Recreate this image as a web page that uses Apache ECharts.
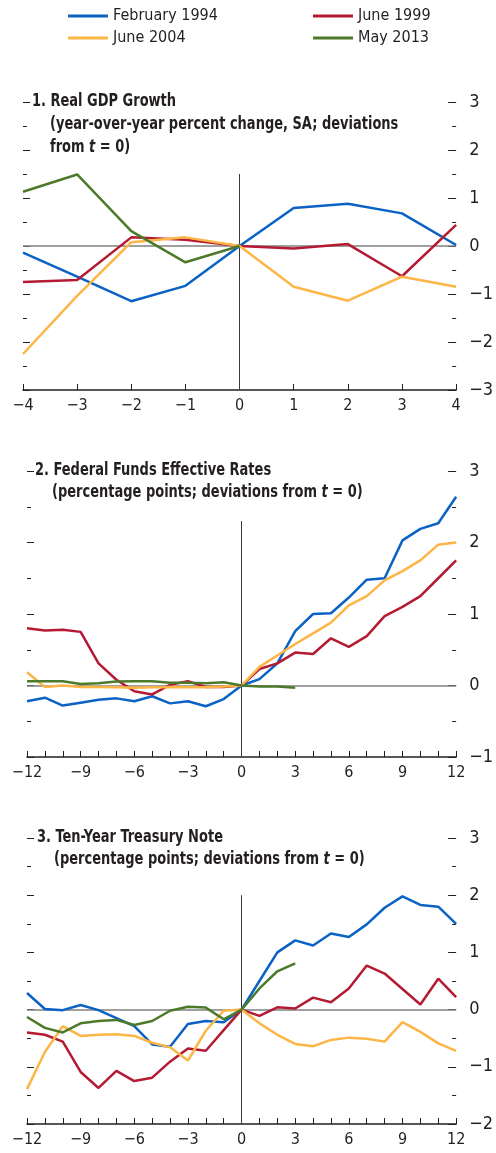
<!DOCTYPE html>
<html>
<head>
<meta charset="utf-8">
<script src="https://cdn.jsdelivr.net/npm/echarts@6/dist/echarts.min.js"></script>
<style>
html,body{margin:0;padding:0;background:#fff}
#main{width:496px;height:1153px}
</style>
</head>
<body>
<div id="main"></div>
<script>
// series names / colours
var seriesNames = ['February 1994', 'June 1999', 'June 2004', 'May 2013'];
var lineColors = ['#0a62c4', '#b41b33', '#fdb646', '#4d7a2a'];

// panel 1: quarters around t = 0
var quarters = [-4, -3, -2, -1, 0, 1, 2, 3, 4];
var gdpFeb1994 = [-0.14, -0.64, -1.15, -0.83, 0, 0.79, 0.88, 0.68, 0.02];
var gdpJun1999 = [-0.75, -0.71, 0.18, 0.13, 0, -0.05, 0.04, -0.63, 0.44];
var gdpJun2004 = [-2.25, -1.04, 0.08, 0.18, 0, -0.85, -1.14, -0.64, -0.85];
var gdpMay2013 = [1.13, 1.49, 0.31, -0.34, 0];

// panels 2 and 3: months around t = 0
var months = [-12, -11, -10, -9, -8, -7, -6, -5, -4, -3, -2, -1, 0, 1, 2, 3, 4, 5, 6, 7, 8, 9, 10, 11, 12];
var ffrFeb1994 = [-0.22, -0.17, -0.28, -0.24, -0.20, -0.18, -0.22, -0.15, -0.25, -0.22, -0.29, -0.19, 0, 0.09, 0.31, 0.76, 1.00, 1.01, 1.23, 1.48, 1.50, 2.03, 2.19, 2.27, 2.64];
var ffrJun1999 = [0.80, 0.77, 0.78, 0.75, 0.31, 0.08, -0.08, -0.125, 0.01, 0.06, -0.02, -0.02, 0, 0.23, 0.31, 0.46, 0.44, 0.66, 0.54, 0.69, 0.97, 1.10, 1.25, 1.50, 1.75];
var ffrJun2004 = [0.185, -0.02, 0, -0.02, -0.02, -0.025, -0.03, -0.025, -0.02, -0.025, -0.025, -0.015, 0, 0.26, 0.42, 0.58, 0.73, 0.88, 1.12, 1.25, 1.47, 1.60, 1.75, 1.97, 2.00];
var ffrMay2013 = [0.06, 0.06, 0.06, 0.02, 0.03, 0.055, 0.06, 0.06, 0.04, 0.04, 0.03, 0.045, 0, -0.015, -0.015, -0.03];

var tnFeb1994 = [0.29, 0.01, -0.01, 0.08, -0.01, -0.15, -0.29, -0.61, -0.65, -0.25, -0.20, -0.22, 0, 0.50, 1.00, 1.21, 1.12, 1.33, 1.27, 1.49, 1.78, 1.98, 1.83, 1.80, 1.50];
var tnJun1999 = [-0.40, -0.44, -0.56, -1.09, -1.37, -1.07, -1.25, -1.19, -0.91, -0.68, -0.72, -0.36, 0, -0.11, 0.04, 0.02, 0.21, 0.13, 0.37, 0.77, 0.63, 0.36, 0.09, 0.54, 0.22];
var tnJun2004 = [-1.39, -0.74, -0.29, -0.46, -0.44, -0.43, -0.46, -0.58, -0.66, -0.89, -0.37, -0.02, 0, -0.24, -0.44, -0.60, -0.64, -0.53, -0.49, -0.51, -0.56, -0.22, -0.39, -0.59, -0.72];
var tnMay2013 = [-0.13, -0.32, -0.40, -0.24, -0.20, -0.18, -0.27, -0.20, -0.02, 0.05, 0.035, -0.17, 0, 0.37, 0.67, 0.81];

var FONT = "'Liberation Sans Narrow','Arial Narrow','DejaVu Sans Condensed',sans-serif";
var INK = '#231f20';

function pairs(xs, ys) {
    return ys.map(function (v, i) { return [xs[i], v]; });
}
function fmt(v) {
    return v < 0 ? '\u2212' + (-v) : String(v);
}

var panels = [
    {top: 102, height: 288, left: 23, right: 36, xMin: -4, xMax: 4, yMin: -3, yMax: 3, every: 1, vTop: 1.5, xs: quarters,
     values: [gdpFeb1994, gdpJun1999, gdpJun2004, gdpMay2013]},
    {top: 471, height: 286, left: 27, right: 34, xMin: -12, xMax: 12, yMin: -1, yMax: 3, every: 3, vTop: 2.3, xs: months,
     values: [ffrFeb1994, ffrJun1999, ffrJun2004, ffrMay2013]},
    {top: 838, height: 286, left: 27, right: 36, xMin: -12, xMax: 12, yMin: -2, yMax: 3, every: 3, vTop: 2.0, xs: months,
     values: [tnFeb1994, tnJun1999, tnJun2004, tnMay2013]}
];

var grids = [], xAxes = [], yAxes = [], series = [];
panels.forEach(function (p, k) {
    grids.push({left: p.left, right: p.right, top: p.top, height: p.height});
    xAxes.push({
        type: 'value', gridIndex: k, min: p.xMin, max: p.xMax, interval: 1,
        axisLine: {onZero: false, lineStyle: {color: INK, width: 1.5}},
        axisTick: {inside: true, length: 6, lineStyle: {color: INK, width: 1}},
        axisLabel: {
            margin: 8, fontSize: 16, fontFamily: FONT, color: INK,
            formatter: function (v) { return v % p.every === 0 ? fmt(v) : ''; }
        },
        splitLine: {show: false}
    });
    // right axis with labels, left axis ticks only
    yAxes.push({
        type: 'value', gridIndex: k, position: 'right', min: p.yMin, max: p.yMax, interval: 1,
        axisLine: {show: false, onZero: false},
        axisTick: {show: true, inside: true, length: 8, lineStyle: {color: INK, width: 1}},
        minorTick: {show: true, splitNumber: 2, length: 4, lineStyle: {color: INK, width: 1}},
        axisLabel: {margin: 13, fontSize: 18, fontFamily: FONT, color: INK, formatter: fmt},
        splitLine: {show: false}
    });
    yAxes.push({
        type: 'value', gridIndex: k, position: 'left', min: p.yMin, max: p.yMax, interval: 1,
        axisLine: {show: false, onZero: false},
        axisTick: {show: true, inside: true, length: 7, lineStyle: {color: INK, width: 1}},
        minorTick: {show: true, splitNumber: 2, length: 4, lineStyle: {color: INK, width: 1}},
        axisLabel: {show: false},
        splitLine: {show: false}
    });
    // reference lines under the data
    series.push({
        type: 'line', name: 'ref' + k, xAxisIndex: k, yAxisIndex: 2 * k, data: [], z: 1,
        markLine: {
            silent: true, symbol: 'none', z: 1, animation: false,
            label: {show: false},
            data: [
                {yAxis: 0, lineStyle: {color: '#808080', width: 1.5, type: 'solid'}},
                [{coord: [0, p.vTop], lineStyle: {color: '#3a3a3a', width: 1, type: 'solid'}}, {coord: [0, p.yMin]}]
            ]
        }
    });
    p.values.forEach(function (vals, i) {
        series.push({
            type: 'line', name: seriesNames[i], xAxisIndex: k, yAxisIndex: 2 * k,
            data: pairs(p.xs, vals), symbol: 'none', showSymbol: false,
            lineStyle: {color: lineColors[i], width: 2.5}, itemStyle: {color: lineColors[i]}
        });
    });
});

function legendAt(name, left, top) {
    return {
        data: [name], left: left, top: top, padding: 0,
        icon: 'rect', itemWidth: 40, itemHeight: 3,
        textStyle: {fontSize: 16, fontFamily: FONT, color: INK},
        selectedMode: false
    };
}

// titles are condensed horizontally to match the narrow face of the original
function titleLine(text, x, y) {
    return {
        type: 'text', x: x, y: y, scaleX: 0.85, silent: true,
        style: {
            text: text, fill: INK, fontSize: 17, fontWeight: 'bold', fontFamily: FONT,
            verticalAlign: 'middle',
            rich: {i: {fontStyle: 'italic', fontWeight: 'bold', fontSize: 17, fontFamily: FONT, fill: INK}}
        }
    };
}

var chart = echarts.init(document.getElementById('main'));
chart.setOption({
    animation: false,
    backgroundColor: '#fff',
    legend: [
        legendAt('February 1994', 68, 8),
        legendAt('June 1999', 313, 8),
        legendAt('June 2004', 68, 30),
        legendAt('May 2013', 313, 30)
    ],
    graphic: [
        titleLine('1. Real GDP Growth', 32, 102),
        titleLine('(year-over-year percent change, SA; deviations', 50, 125),
        titleLine('from {i|t} = 0)', 50, 148),
        titleLine('2. Federal Funds Effective Rates', 35, 471),
        titleLine('(percentage points; deviations from {i|t} = 0)', 52, 493),
        titleLine('3. Ten-Year Treasury Note', 37, 838),
        titleLine('(percentage points; deviations from {i|t} = 0)', 54, 860)
    ],
    grid: grids,
    xAxis: xAxes,
    yAxis: yAxes,
    series: series
});
</script>
</body>
</html>
